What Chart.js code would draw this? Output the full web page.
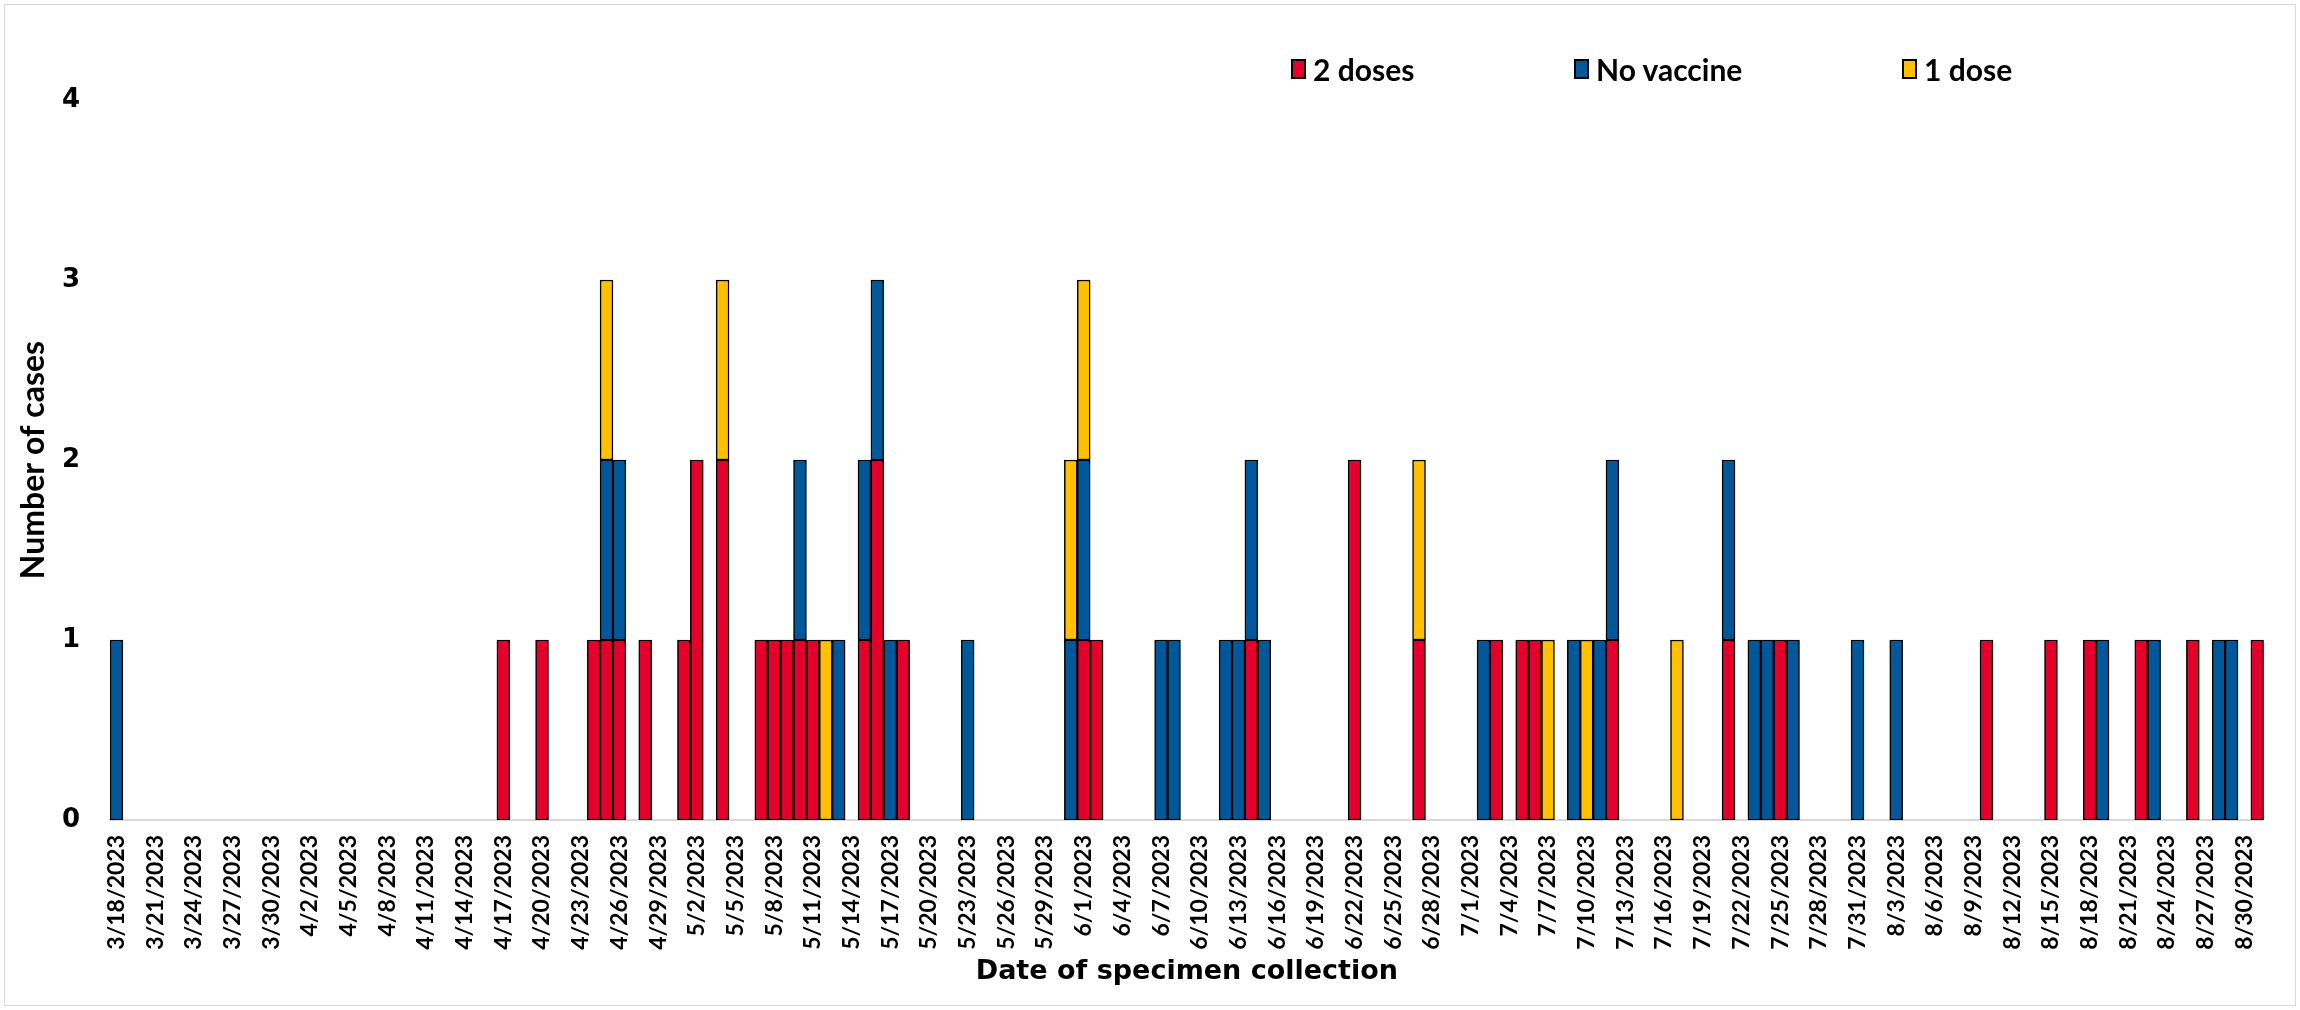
<!DOCTYPE html>
<html>
<head>
<meta charset="utf-8">
<script src="https://cdn.jsdelivr.net/npm/chart.js@4.4.1/dist/chart.umd.min.js"></script>
<style>
  html, body { margin: 0; padding: 0; background: #fff; }
  #wrap { position: relative; width: 2300px; height: 1010px; }
  #frame { position: absolute; left: 4px; top: 4px; width: 2292px; height: 1002px; border: 1.5px solid #d9d9d9; box-sizing: border-box; pointer-events: none; }
  #legend { position: absolute; top: 51px; left: 1291px; display: flex; font-family: Lato, 'Noto Sans', sans-serif; font-weight: bold; font-size: 30px; color: #000; }
  .item { display: flex; align-items: center; }
  .box { display: inline-block; flex: 0 0 auto; width: 15px; height: 20px; border: 2px solid #000; box-sizing: border-box; margin-right: 7px; }
</style>
</head>
<body>
<div id="wrap">
  <canvas id="caseChart" width="2300" height="1010"></canvas>
  <div id="legend"></div>
  <div id="frame"></div>
</div>
<script>
// first and last day on the axis
const firstDay = '3/18/2023';
const lastDay = '8/31/2023';

// days with at least one case
const caseDates = [
  '3/18/2023', '4/17/2023', '4/20/2023', '4/24/2023', '4/25/2023', '4/26/2023', '4/28/2023',
  '5/1/2023', '5/2/2023', '5/4/2023', '5/7/2023', '5/8/2023', '5/9/2023', '5/10/2023',
  '5/11/2023', '5/12/2023', '5/13/2023', '5/15/2023', '5/16/2023', '5/17/2023', '5/18/2023',
  '5/23/2023', '5/31/2023', '6/1/2023', '6/2/2023', '6/7/2023', '6/8/2023', '6/12/2023',
  '6/13/2023', '6/14/2023', '6/15/2023', '6/22/2023', '6/27/2023', '7/2/2023', '7/3/2023',
  '7/5/2023', '7/6/2023', '7/7/2023', '7/9/2023', '7/10/2023', '7/11/2023', '7/12/2023',
  '7/17/2023', '7/21/2023', '7/23/2023', '7/24/2023', '7/25/2023', '7/26/2023', '7/31/2023',
  '8/3/2023', '8/10/2023', '8/15/2023', '8/18/2023', '8/19/2023', '8/22/2023', '8/23/2023',
  '8/26/2023', '8/28/2023', '8/29/2023', '8/31/2023'
];
const twoDoses = [
  0, 1, 1, 1, 1, 1, 1,
  1, 2, 2, 1, 1, 1, 1,
  1, 0, 0, 1, 2, 0, 1,
  0, 0, 1, 1, 0, 0, 0,
  0, 1, 0, 2, 1, 0, 1,
  1, 1, 0, 0, 0, 0, 1,
  0, 1, 0, 0, 1, 0, 0,
  0, 1, 1, 1, 0, 1, 0,
  1, 0, 0, 1
];
const noVaccine = [
  1, 0, 0, 0, 1, 1, 0,
  0, 0, 0, 0, 0, 0, 1,
  0, 0, 1, 1, 1, 1, 0,
  1, 1, 1, 0, 1, 1, 1,
  1, 1, 1, 0, 0, 1, 0,
  0, 0, 0, 1, 0, 1, 1,
  0, 1, 1, 1, 0, 1, 1,
  1, 0, 0, 0, 1, 0, 1,
  0, 1, 1, 0
];
const oneDose = [
  0, 0, 0, 0, 1, 0, 0,
  0, 0, 1, 0, 0, 0, 0,
  0, 1, 0, 0, 0, 0, 0,
  0, 1, 1, 0, 0, 0, 0,
  0, 0, 0, 0, 1, 0, 0,
  0, 0, 1, 0, 1, 0, 0,
  1, 0, 0, 0, 0, 0, 0,
  0, 0, 0, 0, 0, 0, 0,
  0, 0, 0, 0
];

const seriesNames = ['2 doses', 'No vaccine', '1 dose'];
const seriesColors = ['#E4002B', '#00589B', '#FFC000'];
const yTicks = [0, 1, 2, 3, 4];

function parseDay(s) {
  const [m, d, y] = s.split('/').map(Number);
  return new Date(Date.UTC(y, m - 1, d));
}

function formatDay(dt) {
  return (dt.getUTCMonth() + 1) + '/' + dt.getUTCDate() + '/' + dt.getUTCFullYear();
}

// every calendar day between first and last day
const days = [];
for (let dt = parseDay(firstDay); dt <= parseDay(lastDay); dt.setUTCDate(dt.getUTCDate() + 1)) {
  days.push(formatDay(new Date(dt)));
}

// spread the case lists over the full day axis, empty days stay blank
function toDaily(values) {
  return days.map(day => {
    const i = caseDates.indexOf(day);
    return i >= 0 && values[i] > 0 ? values[i] : null;
  });
}

const datasets = [twoDoses, noVaccine, oneDose].map((values, i) => ({
  label: seriesNames[i],
  data: toDaily(values),
  backgroundColor: seriesColors[i],
  borderColor: '#000',
  borderWidth: 1.5,
  borderSkipped: false,
  barPercentage: 1,
  categoryPercentage: 1
}));

const ctx = document.getElementById('caseChart').getContext('2d');
const chart = new Chart(ctx, {
  type: 'bar',
  data: { labels: days, datasets },
  options: {
    responsive: false,
    animation: false,
    layout: { padding: { left: 8, right: 28, top: 100, bottom: 10 } },
    plugins: {
      legend: { display: false },
      tooltip: { enabled: false }
    },
    scales: {
      x: {
        stacked: true,
        grid: { display: false, drawTicks: false },
        border: { display: true, color: '#d9d9d9', width: 2 },
        ticks: {
          autoSkip: false,
          minRotation: 90,
          maxRotation: 90,
          padding: 15,
          color: '#000',
          font: { family: 'Lato', weight: 'bold', size: 23 },
          callback: function (value, index) {
            return index % 3 === 0 ? this.getLabelForValue(value) : '';
          }
        },
        title: {
          display: true,
          text: 'Date of specimen collection',
          color: '#000',
          font: { family: 'DejaVu Sans', weight: 'bold', size: 27 },
          padding: { top: 0, bottom: 12 }
        },
        afterFit: scale => { scale.height = 180; }
      },
      y: {
        stacked: true,
        min: 0,
        max: 4,
        grid: { display: false, drawTicks: false },
        border: { display: false },
        afterBuildTicks: scale => { scale.ticks = yTicks.map(v => ({ value: v })); },
        ticks: {
          padding: 30,
          color: '#000',
          font: { family: 'DejaVu Sans', weight: 'bold', size: 26 }
        },
        title: {
          display: true,
          text: 'Number of cases',
          color: '#000',
          font: { family: 'Lato', weight: 'bold', size: 32 },
          padding: { top: 6, bottom: 0 }
        },
        afterFit: scale => { scale.width = 102; }
      }
    }
  }
});

// legend laid out like the original, one entry per dataset
const legendWidths = [283, 328, 200];
const legend = document.getElementById('legend');
chart.data.datasets.forEach((ds, i) => {
  const item = document.createElement('div');
  item.className = 'item';
  item.style.width = legendWidths[i] + 'px';
  const box = document.createElement('span');
  box.className = 'box';
  box.style.background = ds.backgroundColor;
  const text = document.createElement('span');
  text.textContent = ds.label;
  item.appendChild(box);
  item.appendChild(text);
  legend.appendChild(item);
});
</script>
</body>
</html>
